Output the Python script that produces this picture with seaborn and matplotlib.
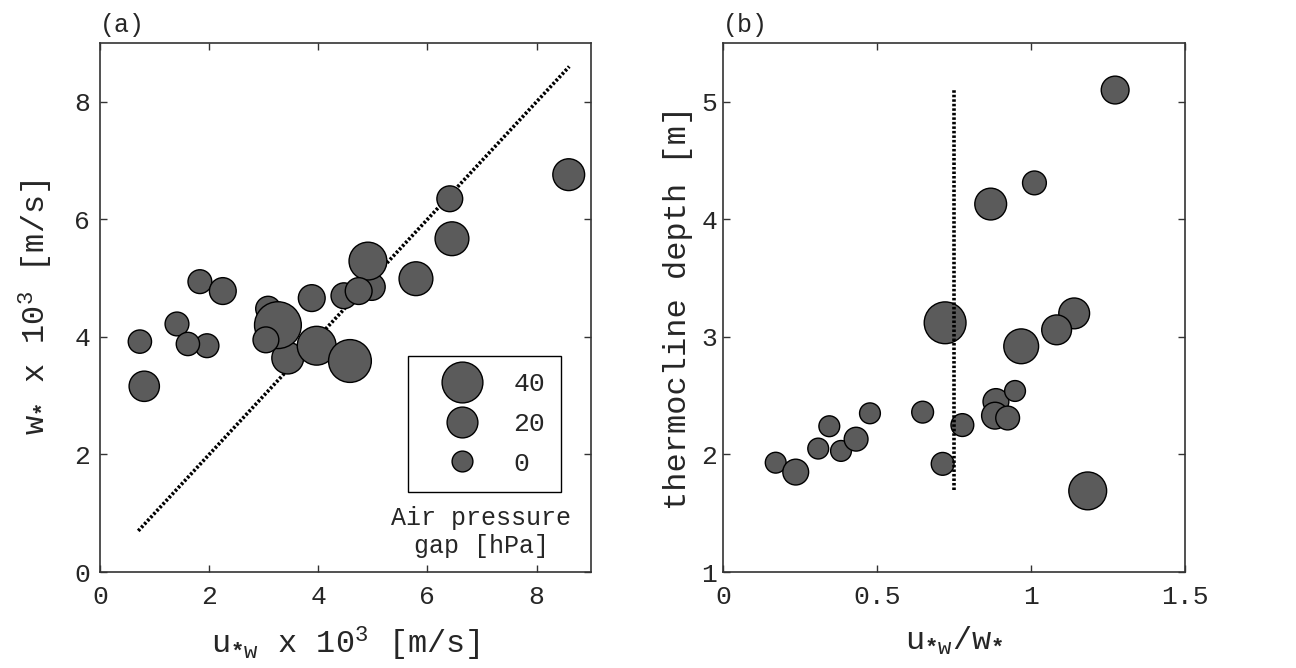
import numpy as np
import pandas as pd
import matplotlib
matplotlib.use("Agg")
import matplotlib.pyplot as plt
import seaborn as sns
from matplotlib.lines import Line2D

# ---------------- data ----------------
# panel (a)
u_star_w = [0.73, 0.81, 1.41, 1.96, 1.61, 1.83, 2.25, 3.08, 3.44, 3.26, 3.04,
            3.97, 4.58, 3.88, 4.47, 4.98, 4.91, 4.74, 5.79, 6.41, 6.45, 8.59]
w_star = [3.92, 3.16, 4.22, 3.85, 3.88, 4.94, 4.78, 4.48, 3.64, 4.20, 3.95,
          3.85, 3.59, 4.66, 4.70, 4.85, 5.29, 4.78, 4.99, 6.35, 5.67, 6.76]
gap_a = [5, 19, 6, 6, 5, 6, 12, 8, 22, 52, 10,
         36, 44, 12, 10, 12, 34, 12, 26, 10, 26, 22]
line_a = [0.7, 8.6]

# panel (b)
ratio = [0.171, 0.236, 0.309, 0.345, 0.383, 0.432, 0.477, 0.648, 0.713, 0.721, 0.777,
         0.869, 0.886, 0.883, 0.924, 0.948, 0.968, 1.011, 1.140, 1.083, 1.184, 1.273]
depth = [1.93, 1.85, 2.05, 2.24, 2.03, 2.13, 2.35, 2.36, 1.92, 3.12, 2.25,
         4.13, 2.45, 2.33, 2.31, 2.54, 2.92, 4.31, 3.20, 3.06, 1.69, 5.10]
gap_b = [0, 10, 0, 0, 0, 6, 0, 2, 4, 42, 4,
         22, 10, 12, 6, 0, 28, 6, 20, 18, 34, 14]
line_b_x = 0.75
line_b_y = [1.7, 5.1]

legend_levels = [40, 20, 0]

# ---------------- style ----------------
sns.set_style("ticks")
plt.rcParams['font.family'] = ['Liberation Mono', 'DejaVu Sans Mono']
plt.rcParams['mathtext.fontset'] = 'custom'
plt.rcParams['mathtext.rm'] = 'Liberation Mono'
plt.rcParams['mathtext.it'] = 'Liberation Mono'
plt.rcParams['mathtext.bf'] = 'Liberation Mono:bold'

FACE = "#5b5b5b"
DPI = 100


def diam_pt(p):
    return (22 + 0.5 * p - 1.2) * 72.0 / DPI


def area(p):
    return diam_pt(p) ** 2


df_a = pd.DataFrame({"u": u_star_w, "w": w_star, "gap": gap_a})
df_a["area"] = df_a["gap"].apply(area)
df_b = pd.DataFrame({"r": ratio, "d": depth, "gap": gap_b})
df_b["area"] = df_b["gap"].apply(area)
amin, amax = area(0), area(60)

fig = plt.figure(figsize=(12.96, 6.68), dpi=DPI)
ax1 = fig.add_axes([0.0772, 0.1437, 0.3789, 0.7919])
ax2 = fig.add_axes([0.5579, 0.1437, 0.3565, 0.7919])

# panel (a)
ax1.plot(line_a, line_a, color="black", lw=2.6, linestyle=(0, (0.7, 0.55)), zorder=2)
sns.scatterplot(data=df_a, x="u", y="w", size="area", sizes=(amin, amax),
                size_norm=(amin, amax), color=FACE, edgecolor="black",
                linewidth=1.0, alpha=1, legend=False, ax=ax1, zorder=3)
ax1.set_xlim(0, 9)
ax1.set_ylim(0, 9)
ax1.set_xticks([0, 2, 4, 6, 8])
ax1.set_yticks([0, 2, 4, 6, 8])
ax1.set_xlabel(r"u$_{\mathbf{*}w}$ x 10$^{3}$ [m/s]", fontsize=23, labelpad=12)
ax1.set_ylabel(r"w$_{\mathbf{*}}$ x 10$^{3}$ [m/s]", fontsize=23, labelpad=14)
ax1.text(0.0, 1.012, "(a)", transform=ax1.transAxes, fontsize=18,
         ha="left", va="bottom")

handles = [Line2D([], [], marker='o', ls='', markersize=diam_pt(p),
                  markerfacecolor=FACE, markeredgecolor='black',
                  markeredgewidth=1.0) for p in legend_levels]
leg = ax1.legend(handles, [str(p) for p in legend_levels], loc="upper left",
                 bbox_to_anchor=(0.627, 0.408), frameon=True, fancybox=False,
                 edgecolor="black", framealpha=1, fontsize=19,
                 borderpad=0.6, handlelength=2.9, handletextpad=0.5,
                 labelspacing=0.6, borderaxespad=0)
leg.get_frame().set_linewidth(1.0)
ax1.text(0.776, 0.0756, "Air pressure\ngap [hPa]", transform=ax1.transAxes,
         fontsize=18, ha="center", va="center", linespacing=1.25)

# panel (b)
sns.scatterplot(data=df_b, x="r", y="d", size="area", sizes=(amin, amax),
                size_norm=(amin, amax), color=FACE, edgecolor="black",
                linewidth=1.0, alpha=1, legend=False, ax=ax2, zorder=3)
ax2.plot([line_b_x, line_b_x], line_b_y, color="black", lw=2.6,
         linestyle=(0, (0.7, 0.55)), zorder=4)
ax2.set_xlim(0, 1.5)
ax2.set_ylim(1, 5.5)
ax2.set_xticks([0, 0.5, 1, 1.5])
ax2.set_xticklabels(["0", "0.5", "1", "1.5"])
ax2.set_yticks([1, 2, 3, 4, 5])
ax2.set_xlabel(r"u$_{\mathbf{*}w}$/w$_{\mathbf{*}}$", fontsize=23, labelpad=12)
ax2.set_ylabel("thermocline depth [m]", fontsize=23, labelpad=6)
ax2.text(0.0, 1.012, "(b)", transform=ax2.transAxes, fontsize=18,
         ha="left", va="bottom")

for ax in (ax1, ax2):
    ax.tick_params(direction="in", top=True, right=True, length=5, width=1,
                   labelsize=19, color="#333333")
    ax.tick_params(axis="x", pad=9)
    for s in ax.spines.values():
        s.set_visible(True)
        s.set_linewidth(1.2)
        s.set_color("#333333")
ax1.tick_params(axis="y", pad=7)
ax2.tick_params(axis="y", pad=4)

fig.savefig("out.png", dpi=DPI)
